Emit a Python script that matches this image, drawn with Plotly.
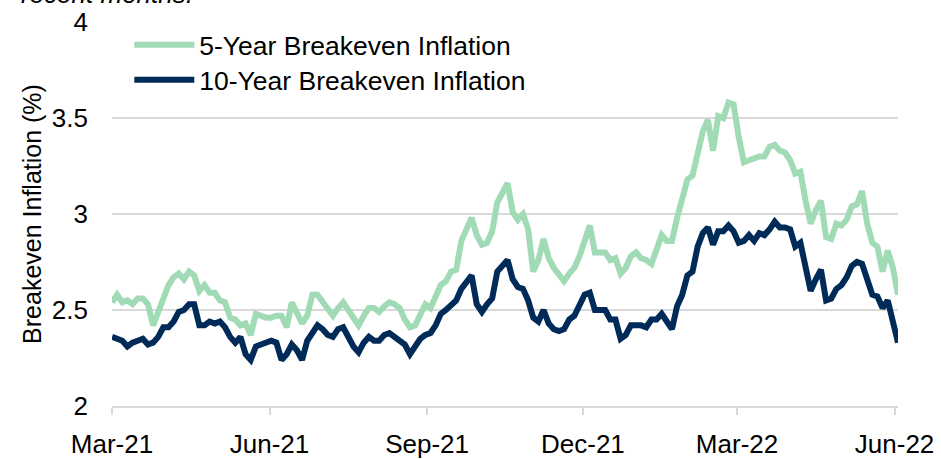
import pandas as pd
import plotly.graph_objects as go

# dates: every 3 calendar days from 1 Mar 2021
dates = pd.date_range("2021-03-01", periods=154, freq="3D")

five_year = [
    2.54, 2.58, 2.54, 2.55, 2.53, 2.56, 2.56, 2.53, 2.42, 2.50,
    2.56, 2.63, 2.67, 2.69, 2.66, 2.70, 2.68, 2.60, 2.63, 2.59,
    2.59, 2.55, 2.54, 2.46, 2.45, 2.42, 2.43, 2.37, 2.48, 2.47,
    2.46, 2.46, 2.47, 2.47, 2.41, 2.54, 2.48, 2.43, 2.47, 2.58,
    2.58, 2.54, 2.50, 2.47, 2.51, 2.54, 2.50, 2.46, 2.42, 2.47,
    2.51, 2.51, 2.49, 2.52, 2.54, 2.53, 2.51, 2.45, 2.41, 2.42,
    2.48, 2.53, 2.51, 2.57, 2.63, 2.65, 2.70, 2.71, 2.86, 2.92,
    2.98, 2.89, 2.84, 2.85, 2.91, 3.06, 3.11, 3.16, 3.01, 2.97,
    3.00, 2.92, 2.70, 2.76, 2.87, 2.77, 2.72, 2.68, 2.65, 2.69,
    2.72, 2.78, 2.86, 2.94, 2.80, 2.80, 2.80, 2.76, 2.77, 2.69,
    2.72, 2.78, 2.80, 2.77, 2.76, 2.74, 2.81, 2.89, 2.86, 2.86,
    2.98, 3.07, 3.18, 3.20, 3.33, 3.43, 3.49, 3.33, 3.51, 3.50,
    3.58, 3.57, 3.40, 3.27, 3.28, 3.29, 3.30, 3.30, 3.35, 3.36,
    3.33, 3.32, 3.28, 3.21, 3.22, 3.07, 2.95, 3.02, 3.07, 2.88,
    2.87, 2.95, 2.94, 2.97, 3.04, 3.05, 3.12, 2.95, 2.85, 2.83,
    2.70, 2.81, 2.72, 2.58,
]

ten_year = [
    2.36, 2.35, 2.34, 2.31, 2.33, 2.34, 2.35, 2.32, 2.33, 2.36,
    2.41, 2.41, 2.44, 2.49, 2.50, 2.53, 2.53, 2.42, 2.42, 2.44,
    2.43, 2.44, 2.41, 2.36, 2.33, 2.36, 2.27, 2.24, 2.31, 2.32,
    2.33, 2.34, 2.33, 2.24, 2.27, 2.32, 2.29, 2.24, 2.34, 2.38,
    2.42, 2.40, 2.37, 2.36, 2.40, 2.41, 2.36, 2.31, 2.28, 2.33,
    2.36, 2.34, 2.34, 2.37, 2.38, 2.36, 2.34, 2.32, 2.27, 2.31,
    2.35, 2.37, 2.38, 2.42, 2.48, 2.50, 2.53, 2.55, 2.61, 2.65,
    2.68, 2.53, 2.49, 2.53, 2.56, 2.70, 2.73, 2.76, 2.66, 2.62,
    2.61, 2.55, 2.46, 2.44, 2.50, 2.43, 2.40, 2.39, 2.40, 2.45,
    2.47, 2.52, 2.58, 2.59, 2.50, 2.50, 2.50, 2.45, 2.45, 2.35,
    2.37, 2.42, 2.42, 2.42, 2.41, 2.45, 2.45, 2.48, 2.44, 2.40,
    2.52, 2.58, 2.68, 2.70, 2.83, 2.90, 2.93, 2.84, 2.91, 2.91,
    2.94, 2.91, 2.85, 2.86, 2.89, 2.86, 2.90, 2.89, 2.92, 2.96,
    2.93, 2.93, 2.92, 2.83, 2.85, 2.74, 2.60, 2.66, 2.71, 2.55,
    2.56, 2.61, 2.63, 2.67, 2.73, 2.75, 2.74, 2.66, 2.58, 2.57,
    2.51, 2.55, 2.44, 2.33,
]

tick_dates = ["2021-03-01", "2021-06-01", "2021-09-01", "2021-12-01", "2022-03-01", "2022-06-01"]
tick_labels = ["Mar-21", "Jun-21", "Sep-21", "Dec-21", "Mar-22", "Jun-22"]
y_ticks = [2, 2.5, 3, 3.5, 4]
y_labels = ["2", "2.5", "3", "3.5", "4"]

GREEN = "#a0dbb5"
NAVY = "#002a57"
FONT = "Liberation Sans, Arial, sans-serif"
FS = 26

fig = go.Figure()
fig.add_trace(go.Scatter(x=dates, y=five_year, mode="lines", name="5-Year Breakeven Inflation",
                         line=dict(color=GREEN, width=6), legend="legend"))
fig.add_trace(go.Scatter(x=dates, y=ten_year, mode="lines", name="10-Year Breakeven Inflation",
                         line=dict(color=NAVY, width=6), legend="legend2"))

W, H = 941, 459
L, R, T, B = 112, 43, 22, 53
PH = H - T - B
PW = W - L - R

legend_common = dict(font=dict(family=FONT, size=26.5, color="#000000"), bgcolor="rgba(0,0,0,0)",
                     itemwidth=60, xanchor="left", yanchor="top", traceorder="normal",
                     visible=True)

fig.update_layout(
    width=W, height=H,
    margin=dict(l=L, r=R, t=T, b=B, autoexpand=False),
    paper_bgcolor="white", plot_bgcolor="white",
    showlegend=True,
    font=dict(family=FONT, size=FS, color="#000000"),
    legend=dict(x=0.022, y=1 - (21 - T) / PH, **legend_common),
    legend2=dict(x=0.022, y=1 - (56 - T) / PH, **legend_common),
    xaxis=dict(
        type="date", range=["2021-03-01", "2022-06-03"], automargin=False,
        tickvals=tick_dates, ticktext=tick_labels,
        showgrid=False, zeroline=False,
        showline=True, linecolor="#d9d9d9", linewidth=1.5,
        ticks="outside", ticklen=7, tickcolor="#d9d9d9", tickwidth=1.5,
        ticklabelstandoff=7,
        tickfont=dict(family=FONT, size=FS, color="#000000"),
    ),
    yaxis=dict(
        range=[2, 4], tickvals=y_ticks, ticktext=y_labels, automargin=False,
        showgrid=True, gridcolor="#d9d9d9", gridwidth=1.5,
        zeroline=False, showline=False, ticks="", ticklabelstandoff=23,
        tickfont=dict(family=FONT, size=FS, color="#000000"),
        title=dict(text="Breakeven Inflation (%)", font=dict(family=FONT, size=25, color="#000000"), standoff=3),
    ),
    annotations=[dict(
        text="<i>recent months.</i>", xref="paper", yref="paper",
        x=(19 - L) / PW, y=1 + (T - 11) / PH,
        xanchor="left", yanchor="bottom", showarrow=False,
        font=dict(family=FONT, size=FS, color="#000000"),
    )],
)

fig.write_html("out.html", config={"displayModeBar": False},
               post_script="document.body.style.margin='0';")
